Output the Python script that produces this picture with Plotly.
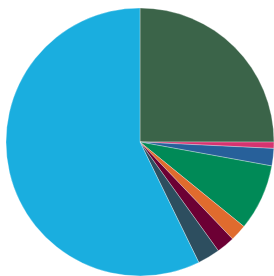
import plotly.graph_objects as go

labels = ["A", "B", "C", "D", "E", "F", "G", "H"]
values = [25.0, 0.75, 2.1, 8.0, 2.0, 2.2, 2.7, 57.2]
colors = ["#3b6449", "#d6336f", "#27609a", "#008a57", "#e06b2e", "#6c0034", "#2d4e5f", "#1aaedf"]

fig = go.Figure(go.Pie(
    labels=labels,
    values=values,
    sort=False,
    direction="clockwise",
    rotation=0,
    textinfo="none",
    hoverinfo="label+percent",
    marker=dict(colors=colors, line=dict(color="rgba(255,255,255,0.5)", width=0.6)),
    showlegend=False,
))

fig.update_layout(
    width=274,
    height=276,
    margin=dict(l=6, r=0, t=8, b=0),
    paper_bgcolor="white",
    plot_bgcolor="white",
)

fig.write_html(
    "out.html",
    config={"displayModeBar": False},
    post_script="document.body.style.margin='0';document.body.style.overflow='hidden';",
)
